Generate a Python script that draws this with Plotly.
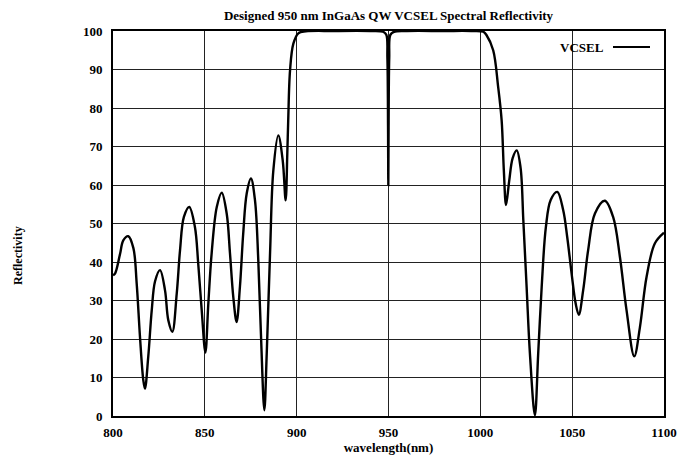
import plotly.graph_objects as go

wavelength = [800.0, 801.1, 803.8, 805.6, 808.3, 811.1, 812.9, 814.7, 816.5, 817.4,
              819.2, 821.1, 822.9, 825.6, 828.3, 830.1, 832.3, 834.7, 836.5, 838.6,
              841.5, 844.6, 846.4, 848.3, 850.3, 851.9, 853.7, 856.5, 859.2, 861.9,
              863.7, 865.5, 867.3, 869.1, 870.9, 872.8, 875.1, 877.3, 879.1, 880.6,
              882.4, 883.7, 885.5, 887.3, 890.0, 892.4, 894.0, 894.9, 895.4, 896.4,
              898.2, 900.9, 905.0, 920.0, 940.0, 947.0, 948.8, 949.4, 949.75, 949.9,
              950.05, 950.4, 951.0, 953.0, 960.0, 980.0, 995.0, 1001.6, 1003.4, 1007.0,
              1009.7, 1011.6, 1012.8, 1014.0, 1015.7, 1017.6, 1019.8, 1021.9, 1023.4, 1025.2,
              1027.0, 1029.7, 1031.5, 1033.4, 1035.7, 1038.3, 1041.9, 1045.1, 1047.3, 1049.7,
              1051.9, 1053.6, 1056.0, 1058.7, 1062.4, 1067.8, 1072.3, 1076.0, 1079.6, 1083.8,
              1086.9, 1090.5, 1095.0, 1100.0]
reflectivity = [36.6, 37.0, 42.0, 45.6, 46.7, 43.6, 34.4, 20.5, 9.3, 7.1,
                15.4, 27.5, 35.0, 37.9, 32.7, 24.9, 21.9, 31.8, 43.1, 51.7,
                54.3, 49.1, 39.6, 27.5, 16.5, 29.2, 42.2, 54.3, 58.0, 52.6,
                42.2, 30.9, 24.4, 33.5, 47.4, 57.8, 61.7, 56.1, 40.5, 20.5,
                1.5, 16.2, 42.2, 63.8, 72.9, 66.4, 56.0, 68.2, 76.8, 89.8,
                96.7, 99.4, 99.9, 100.0, 100.0, 99.8, 99.0, 93.0, 75.0, 60.0,
                75.0, 93.0, 99.0, 99.8, 100.0, 100.0, 100.0, 99.8, 98.9, 95.0,
                85.5, 76.8, 63.8, 54.8, 61.0, 67.0, 69.0, 64.5, 50.9, 33.5,
                16.2, 0.2, 16.2, 33.5, 49.1, 56.1, 58.2, 53.5, 46.5, 37.0,
                29.2, 26.3, 32.7, 43.1, 52.6, 55.9, 51.7, 41.3, 27.5, 15.5,
                23.1, 36.1, 44.8, 47.6]

x_ticks = [800, 850, 900, 950, 1000, 1050, 1100]
y_ticks = [0, 10, 20, 30, 40, 50, 60, 70, 80, 90, 100]

FONT = "Liberation Serif"
L, R, T, B = 113, 18, 31, 40
PW = 682 - L - R
PH = 456 - T - B

fig = go.Figure()
fig.add_trace(go.Scatter(
    x=wavelength, y=reflectivity, mode="lines", name="VCSEL",
    line=dict(color="black", width=2.4, shape="spline", smoothing=1.0),
    showlegend=False,
))

fig.update_layout(
    width=682, height=456,
    margin=dict(l=L, r=R, t=T, b=B, autoexpand=False),
    paper_bgcolor="white", plot_bgcolor="white",
    title=dict(text="Designed 950 nm InGaAs QW VCSEL Spectral Reflectivity",
               x=(L + PW / 2) / 682, xanchor="center", y=1 - 15 / 456, yanchor="middle",
               font=dict(family=FONT, size=13, color="black", weight="bold")),
    font=dict(family=FONT, size=12, color="black", weight="bold"),
)

fig.update_xaxes(
    range=[800, 1100], tickvals=x_ticks, ticktext=[str(v) for v in x_ticks],
    showgrid=True, gridcolor="#222222", gridwidth=1,
    showline=True, linecolor="black", linewidth=2, mirror=True,
    ticks="", zeroline=False, ticklabelstandoff=3, automargin=False,
    title=dict(text="wavelength(nm)", standoff=0,
               font=dict(family=FONT, size=13, color="black", weight="bold")),
    tickfont=dict(family=FONT, size=13, color="black", weight="bold"),
)
fig.update_yaxes(
    range=[0, 100], tickvals=y_ticks, ticktext=[str(v) for v in y_ticks],
    showgrid=True, gridcolor="#222222", gridwidth=1,
    showline=True, linecolor="black", linewidth=2, mirror=True,
    ticks="", zeroline=False, ticklabelstandoff=6, automargin=False,
    tickfont=dict(family=FONT, size=13, color="black", weight="bold"),
)

# y-axis label placed far left as in the reference
fig.add_annotation(text="Reflectivity", xref="paper", yref="paper",
                   x=(18 - L) / PW, y=1 - (256 - T) / PH, textangle=-90, showarrow=False,
                   xanchor="center", yanchor="middle",
                   font=dict(family=FONT, size=12, color="black", weight="bold"))

# legend in gnuplot style: label then line sample
fig.add_annotation(text="VCSEL", xref="paper", yref="paper",
                   x=(606 - L) / PW, y=1 - (47 - T) / PH, showarrow=False,
                   xanchor="right", yanchor="middle",
                   font=dict(family=FONT, size=13, color="black", weight="bold"))
fig.add_shape(type="line", xref="paper", yref="paper",
              x0=(613 - L) / PW, x1=(650 - L) / PW,
              y0=1 - (47 - T) / PH, y1=1 - (47 - T) / PH,
              line=dict(color="black", width=2))

fig.write_html("out.html")
